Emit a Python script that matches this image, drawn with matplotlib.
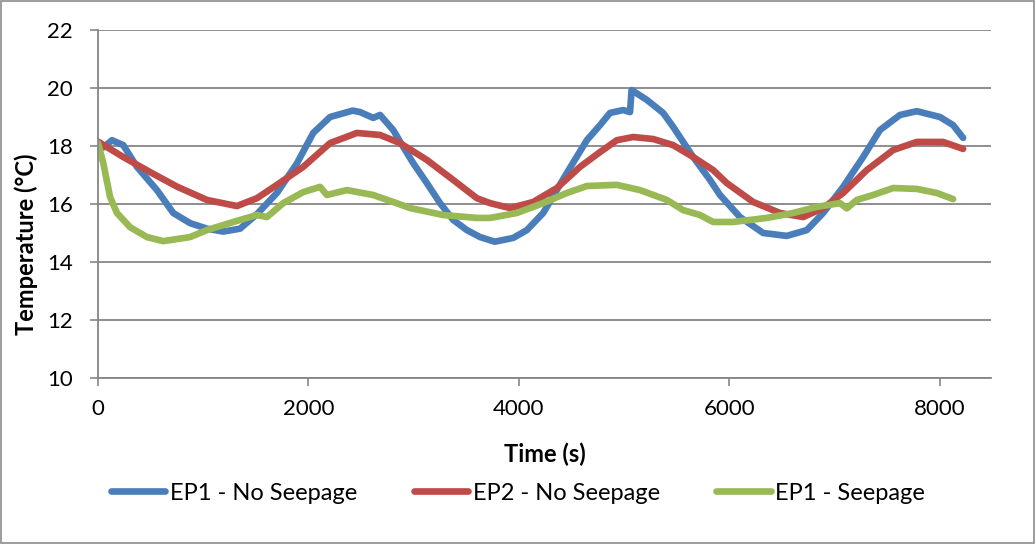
import matplotlib
matplotlib.use("Agg")
import matplotlib.pyplot as plt
from matplotlib.patches import Rectangle

# EP1 - No Seepage
t_ep1 = [0, 50, 133, 240, 370, 560, 715, 875, 1035, 1190, 1350, 1510, 1700, 1890, 2045,
         2205, 2420, 2490, 2615, 2680, 2805, 2900, 2995, 3125, 3250, 3375, 3505, 3630,
         3770, 3945, 4075, 4230, 4455, 4645, 4770, 4865, 4990, 5055, 5070, 5215, 5370,
         5465, 5655, 5815, 5910, 6100, 6320, 6545, 6735, 6890, 7080, 7270, 7430, 7620,
         7780, 8000, 8125, 8220]
T_ep1 = [18.0, 17.95, 18.2, 18.03, 17.28, 16.48, 15.69, 15.34, 15.15, 15.05, 15.15, 15.65,
         16.38, 17.4, 18.45, 19.0, 19.22, 19.17, 18.97, 19.07, 18.55, 17.97, 17.41, 16.72,
         16.03, 15.45, 15.1, 14.86, 14.7, 14.83, 15.1, 15.69, 17.07, 18.2, 18.72, 19.14,
         19.24, 19.17, 19.93, 19.59, 19.14, 18.66, 17.62, 16.83, 16.31, 15.55, 15.0, 14.9,
         15.1, 15.69, 16.59, 17.62, 18.55, 19.07, 19.2, 19.0, 18.72, 18.28]

# EP2 - No Seepage
t_ep2 = [0, 240, 495, 750, 1035, 1320, 1510, 1700, 1950, 2205, 2460, 2680, 2870, 3125,
         3375, 3600, 3725, 3915, 4135, 4360, 4580, 4770, 4930, 5085, 5275, 5465, 5655,
         5845, 5975, 6225, 6480, 6700, 6890, 7080, 7305, 7555, 7780, 8030, 8220]
T_ep2 = [18.15, 17.62, 17.1, 16.6, 16.14, 15.93, 16.2, 16.66, 17.28, 18.1, 18.45, 18.38,
         18.1, 17.52, 16.83, 16.2, 16.03, 15.86, 16.07, 16.55, 17.28, 17.79, 18.2, 18.31,
         18.24, 18.03, 17.62, 17.17, 16.72, 16.07, 15.69, 15.55, 15.86, 16.38, 17.17,
         17.86, 18.14, 18.14, 17.9]

# EP1 - Seepage
t_sp = [0, 50, 115, 180, 305, 465, 620, 875, 1035, 1285, 1510, 1605, 1760, 1950, 2110,
        2175, 2365, 2615, 2805, 2965, 3280, 3600, 3725, 3980, 4230, 4455, 4645, 4930,
        5150, 5405, 5560, 5720, 5845, 6035, 6355, 6605, 6830, 7050, 7115, 7210, 7365,
        7555, 7780, 7970, 8125]
T_sp = [18.1, 17.41, 16.24, 15.69, 15.2, 14.86, 14.72, 14.86, 15.1, 15.38, 15.62, 15.55,
        16.03, 16.41, 16.59, 16.31, 16.48, 16.31, 16.07, 15.86, 15.62, 15.52, 15.52, 15.69,
        16.03, 16.38, 16.62, 16.66, 16.48, 16.14, 15.79, 15.62, 15.38, 15.38, 15.52, 15.69,
        15.9, 16.03, 15.85, 16.14, 16.31, 16.55, 16.52, 16.38, 16.17]

x_ticks = [0, 2000, 4000, 6000, 8000]
y_ticks = [10, 12, 14, 16, 18, 20, 22]

plt.rcParams['font.family'] = ['Lato', 'DejaVu Sans']

fig = plt.figure(figsize=(10.36, 5.44), dpi=100)
fig.patches.append(Rectangle((0.001, 0.002), 0.997, 0.996, transform=fig.transFigure,
                             fill=False, edgecolor='#8c8c8c', linewidth=1.2))
ax = fig.add_axes([98 / 1036, 1 - 378 / 544, (991 - 98) / 1036, (378 - 30) / 544])

line_kw = dict(lw=4.8, solid_capstyle='round', solid_joinstyle='round')
ax.plot(t_ep1, T_ep1, color='#4a7ebb', label='EP1 - No Seepage', **line_kw)
ax.plot(t_ep2, T_ep2, color='#be4b48', label='EP2 - No Seepage', **line_kw)
ax.plot(t_sp, T_sp, color='#98b954', label='EP1 - Seepage', **line_kw)

ax.set_xlim(0, 8485)
ax.set_ylim(10, 22)
ax.set_xticks(x_ticks)
ax.set_yticks(y_ticks)
ax.tick_params(labelsize=16, length=6, color='#868686', width=1.2)
ax.tick_params(axis='x', pad=9)
ax.tick_params(axis='y', pad=12)
ax.yaxis.grid(True, color='#868686', lw=1.3)
ax.set_axisbelow(True)
for side in ['top', 'right']:
    ax.spines[side].set_visible(False)
for side in ['left', 'bottom']:
    ax.spines[side].set_color('#868686')
    ax.spines[side].set_linewidth(1.3)

ax.set_xlabel('Time (s)', fontsize=17, fontweight='bold', labelpad=17)
# y title sits a bit low in the original, so place it by hand
fig.text(26 / 1036, 1 - 244 / 544, 'Temperature (°C)', fontsize=17, fontweight='bold',
         rotation=90, ha='center', va='center')

fig.legend(loc='center', bbox_to_anchor=(0.5, 1 - 493 / 544), ncol=3, frameon=False,
           fontsize=17, handlelength=2.3, columnspacing=2.4, handletextpad=0.2)

fig.savefig('out.png', dpi=100)
